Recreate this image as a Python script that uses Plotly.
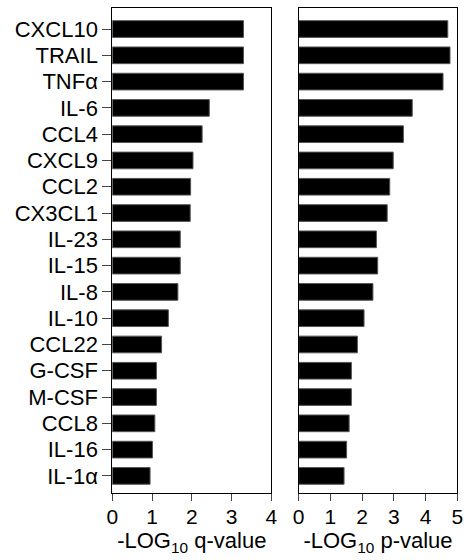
import plotly.graph_objects as go

categories = ["CXCL10", "TRAIL", "TNFα", "IL-6", "CCL4", "CXCL9", "CCL2", "CX3CL1",
              "IL-23", "IL-15", "IL-8", "IL-10", "CCL22", "G-CSF", "M-CSF", "CCL8",
              "IL-16", "IL-1α"]
q_values = [3.30, 3.30, 3.30, 2.44, 2.26, 2.03, 1.97, 1.96,
            1.71, 1.71, 1.65, 1.41, 1.24, 1.11, 1.11, 1.07, 1.01, 0.95]
p_values = [4.70, 4.77, 4.55, 3.58, 3.30, 2.98, 2.87, 2.79,
            2.45, 2.49, 2.34, 2.06, 1.85, 1.66, 1.66, 1.59, 1.51, 1.43]
q_ticks = [0, 1, 2, 3, 4]
p_ticks = [0, 1, 2, 3, 4, 5]

W, H = 465, 560
font_family = "Liberation Sans, Arial, sans-serif"
cat_order = list(reversed(categories))

fig = go.Figure()
fig.add_trace(go.Bar(y=categories, x=q_values, orientation="h", xaxis="x", yaxis="y",
                     marker=dict(color="black", line=dict(color="#555", width=1)),
                     showlegend=False))
fig.add_trace(go.Bar(y=categories, x=p_values, orientation="h", xaxis="x2", yaxis="y2",
                     marker=dict(color="black", line=dict(color="#555", width=1)),
                     showlegend=False))

axis_common = dict(showline=True, linecolor="black", linewidth=1, mirror=True,
                   showgrid=False, zeroline=False, automargin=False)

fig.update_layout(
    width=W, height=H,
    margin=dict(l=0, r=0, t=8, b=67, pad=0),
    paper_bgcolor="white", plot_bgcolor="white",
    bargap=0.365,
    font=dict(family=font_family, size=21, color="black"),
    xaxis=dict(domain=[112.3 / W, 271.3 / W], range=[0, 4], tickvals=q_ticks,
               ticks="outside", ticklen=7, tickcolor="#444", tickwidth=1,
               tickfont=dict(size=21), ticklabelstandoff=-2,
               title=dict(text="-LOG<sub>10</sub> q-value", standoff=0,
                          font=dict(size=22)),
               anchor="y", **axis_common),
    yaxis=dict(type="category", categoryorder="array", categoryarray=cat_order,
               range=[-0.65, 17.8], ticks="outside", ticklen=9, tickcolor="#444",
               tickwidth=1, ticklabelstandoff=0, tickfont=dict(size=22),
               anchor="x", **axis_common),
    xaxis2=dict(domain=[298.7 / W, 457.3 / W], range=[0, 5], tickvals=p_ticks,
                ticks="outside", ticklen=7, tickcolor="#444", tickwidth=1,
                tickfont=dict(size=21), ticklabelstandoff=-2,
                title=dict(text="-LOG<sub>10</sub> p-value", standoff=0,
                           font=dict(size=22)),
                anchor="y2", **axis_common),
    yaxis2=dict(type="category", categoryorder="array", categoryarray=cat_order,
                range=[-0.65, 17.8], ticks="", showticklabels=False,
                anchor="x2", **axis_common),
)

fig.write_html("out.html", config={"displayModeBar": False},
               post_script="document.body.style.margin='0';")
